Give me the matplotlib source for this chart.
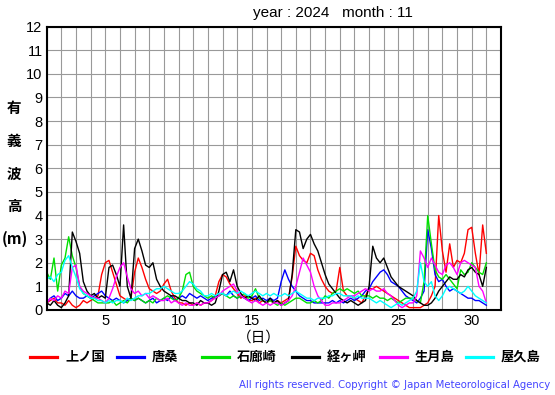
import numpy as np
import matplotlib
matplotlib.use("Agg")
import matplotlib.pyplot as plt
from matplotlib.lines import Line2D

# significant wave height (m), read every 6 hours from Nov 1 00h to Dec 1 00h
stations = ["上ノ国", "唐桑", "石廊崎", "経ヶ岬", "生月島", "屋久島"]
colors = ["#ff0000", "#0000ff", "#00e000", "#000000", "#ff00ff", "#00ffff"]

kaminokuni = [
    0.3, 0.4, 0.5, 0.3,  0.3, 0.2, 0.4, 0.2,  0.1, 0.2, 0.4, 0.3,  0.4, 0.5, 0.6, 1.5,
    2.0, 2.1, 1.6, 1.1,  0.6, 0.5, 0.4, 0.5,  1.6, 2.2, 1.8, 1.3,  0.9, 0.8, 0.7, 0.8,
    1.1, 1.3, 0.8, 0.5,  0.3, 0.3, 0.2, 0.3,  0.2, 0.3, 0.2, 0.3,  0.3, 0.4, 0.6, 1.2,
    1.5, 1.4, 1.1, 0.9,  0.7, 0.5, 0.6, 0.4,  0.4, 0.5, 0.3, 0.4,  0.3, 0.4, 0.3, 0.4,
    0.3, 0.4, 0.5, 1.4,  2.7, 2.3, 2.1, 2.0,  2.4, 2.3, 1.7, 1.3,  1.0, 0.8, 0.7, 0.8,
    1.8, 0.8, 0.6, 0.6,  0.5, 0.4, 0.3, 0.6,  0.9, 0.9, 1.0, 0.9,  0.8, 0.7, 0.6, 0.5,
    0.4, 0.3, 0.2, 0.1,  0.1, 0.1, 0.1, 0.2,  0.3, 0.6, 1.0, 4.0,  2.5, 1.6, 2.8, 1.8,
    2.1, 2.0, 2.4, 3.4,  3.5, 2.4, 1.5, 3.6,  2.4]
karakuwa = [
    0.3, 0.5, 0.6, 0.4,  0.5, 0.7, 0.6, 0.8,  0.6, 0.5, 0.5, 0.6,  0.5, 0.6, 0.7, 0.8,
    0.6, 0.5, 0.4, 0.5,  0.4, 0.3, 0.4, 0.5,  0.4, 0.5, 0.4, 0.3,  0.4, 0.5, 0.3, 0.4,
    0.5, 0.4, 0.6, 0.4,  0.5, 0.6, 0.5, 0.7,  0.6, 0.5, 0.6, 0.5,  0.4, 0.5, 0.6, 0.6,
    0.7, 0.6, 0.8, 0.6,  0.5, 0.6, 0.5, 0.4,  0.5, 0.6, 0.4, 0.5,  0.4, 0.5, 0.4, 0.5,
    1.2, 1.7, 1.3, 1.0,  0.8, 0.6, 0.5, 0.4,  0.4, 0.3, 0.3, 0.3,  0.3, 0.3, 0.4, 0.3,
    0.4, 0.3, 0.4, 0.5,  0.4, 0.5, 0.6, 0.8,  0.9, 1.2, 1.4, 1.6,  1.7, 1.5, 1.2, 1.1,
    1.0, 0.8, 0.6, 0.5,  0.4, 0.3, 0.5, 0.8,  3.4, 2.6, 1.5, 1.2,  1.3, 1.0, 0.8, 0.9,
    0.8, 0.7, 0.6, 0.5,  0.5, 0.4, 0.4, 0.3,  0.2]
irozaki = [
    1.6, 1.3, 2.2, 0.8,  1.9, 2.2, 3.1, 2.3,  1.8, 1.0, 0.7, 0.6,  0.5, 0.4, 0.3, 0.3,
    0.3, 0.3, 0.4, 0.2,  0.3, 0.4, 0.3, 0.5,  0.4, 0.5, 0.4, 0.3,  0.4, 0.3, 0.5, 0.4,
    0.5, 0.6, 0.5, 0.4,  0.5, 0.8, 1.5, 1.6,  1.0, 0.8, 0.7, 0.6,  0.5, 0.6, 0.5, 0.6,
    0.7, 0.6, 0.5, 0.6,  0.5, 0.6, 0.7, 0.5,  0.6, 0.9, 0.5, 0.4,  0.3, 0.4, 0.3, 0.2,
    0.3, 0.2, 0.3, 0.4,  0.5, 0.5, 0.4, 0.3,  0.3, 0.4, 0.3, 0.4,  0.6, 0.5, 0.7, 0.8,
    0.9, 0.8, 0.9, 0.8,  0.7, 0.8, 0.6, 0.6,  0.6, 0.5, 0.6, 0.5,  0.5, 0.4, 0.5, 0.4,
    0.3, 0.4, 0.5, 0.5,  0.5, 0.4, 0.3, 1.2,  4.0, 2.8, 1.7, 1.4,  1.3, 1.5, 1.3, 1.1,
    0.9, 1.7, 1.5, 1.6,  2.0, 1.8, 1.6, 1.5,  2.0]
kyogamisaki = [
    0.3, 0.2, 0.4, 0.2,  0.1, 0.3, 0.6, 3.3,  2.9, 2.4, 1.2, 0.8,  0.6, 0.7, 0.5, 0.6,
    0.5, 1.8, 1.9, 1.5,  1.0, 3.6, 1.0, 0.5,  2.6, 3.0, 2.5, 1.9,  1.8, 2.0, 1.3, 1.0,
    0.8, 0.7, 0.6, 0.6,  0.5, 0.4, 0.4, 0.3,  0.3, 0.2, 0.4, 0.3,  0.3, 0.2, 0.3, 0.8,
    1.5, 1.6, 1.2, 1.7,  1.0, 0.7, 0.5, 0.6,  0.5, 0.4, 0.6, 0.4,  0.3, 0.5, 0.3, 0.4,
    0.2, 0.3, 0.4, 1.5,  3.4, 3.3, 2.6, 3.0,  3.2, 2.8, 2.5, 2.0,  1.5, 1.1, 0.9, 0.7,
    0.5, 0.4, 0.3, 0.4,  0.3, 0.2, 0.3, 0.4,  1.0, 2.7, 2.2, 2.0,  2.2, 1.8, 1.4, 1.2,
    1.0, 0.9, 0.8, 0.7,  0.6, 0.4, 0.3, 0.2,  0.2, 0.3, 0.5, 0.8,  1.0, 1.2, 1.4, 1.3,
    1.3, 1.5, 1.4, 1.7,  1.8, 1.6, 1.5, 1.0,  1.8]
ikitsukishima = [
    0.3, 0.5, 0.4, 0.6,  0.5, 0.8, 0.7, 1.8,  1.9, 1.0, 0.8, 0.7,  0.6, 0.5, 0.5, 0.4,
    0.3, 0.5, 0.9, 1.4,  1.8, 2.0, 1.4, 0.9,  0.7, 0.8, 0.6, 0.7,  0.5, 0.6, 0.5, 0.4,
    0.4, 0.5, 0.3, 0.4,  0.3, 0.2, 0.3, 0.2,  0.2, 0.3, 0.2, 0.3,  0.3, 0.4, 0.5, 0.6,
    0.8, 0.9, 1.0, 1.1,  0.8, 0.6, 0.5, 0.4,  0.3, 0.4, 0.3, 0.2,  0.3, 0.2, 0.3, 0.3,
    0.2, 0.3, 0.4, 0.6,  1.0, 1.6, 2.2, 1.9,  1.6, 1.0, 0.6, 0.4,  0.2, 0.2, 0.3, 0.3,
    0.3, 0.4, 0.5, 0.6,  0.6, 0.7, 0.8, 0.9,  0.8, 0.9, 0.8, 0.8,  0.9, 0.7, 0.6, 0.4,
    0.2, 0.1, 0.2, 0.3,  0.3, 0.6, 2.5, 2.2,  1.8, 2.2, 1.9, 1.6,  1.5, 1.9, 2.0, 1.8,
    1.5, 2.0, 2.1, 2.0,  1.9, 1.8, 1.0, 0.8,  0.3]
yakushima = [
    1.3, 1.4, 1.2, 1.5,  1.6, 2.1, 2.3, 1.8,  1.4, 0.9, 0.7, 0.6,  0.5, 0.5, 0.4, 0.4,
    0.3, 0.4, 0.3, 0.4,  0.4, 0.3, 0.5, 0.4,  0.5, 0.6, 0.6, 0.7,  0.7, 0.8, 0.9, 0.9,
    1.0, 0.9, 0.8, 0.7,  0.7, 0.8, 1.0, 1.2,  1.1, 0.9, 0.8, 0.6,  0.6, 0.7, 0.6, 0.7,
    0.7, 0.6, 0.7, 0.8,  0.7, 0.8, 0.7, 0.6,  0.7, 0.8, 0.7, 0.6,  0.7, 0.6, 0.7, 0.6,
    0.6, 0.7, 0.6, 0.7,  0.8, 0.7, 0.6, 0.5,  0.5, 0.4, 0.5, 0.5,  0.5, 0.6, 0.6, 0.7,
    0.7, 0.6, 0.6, 0.6,  0.5, 0.6, 0.5, 0.5,  0.5, 0.4, 0.3, 0.4,  0.3, 0.2, 0.1, 0.2,
    0.3, 0.2, 0.3, 0.4,  0.5, 0.8, 2.0, 1.2,  1.0, 1.2, 0.6, 0.4,  0.6, 0.9, 1.0, 0.9,
    0.8, 0.7, 0.8, 1.0,  0.8, 0.6, 0.5, 0.4,  0.3]

series = [kaminokuni, karakuwa, irozaki, kyogamisaki, ikitsukishima, yakushima]
days = 1 + np.arange(len(kaminokuni)) * 0.25

jp = ["Noto Sans CJK JP", "DejaVu Sans"]
num_font = "Liberation Sans"

fig = plt.figure(figsize=(5.55, 3.95), dpi=100)
ax = fig.add_axes([0.0841, 0.2152, 0.8186, 0.7177])

for vals, c in zip(series, colors):
    ax.plot(days, vals, color=c, lw=1.0)

ax.set_xlim(1, 32)
ax.set_ylim(0, 12)
ax.set_xticks(np.arange(1, 33), minor=True)
ax.set_xticks([5, 10, 15, 20, 25, 30])
ax.set_yticks(np.arange(0, 13))
ax.grid(True, which="both", color="#999999", lw=0.8)
ax.set_axisbelow(True)
ax.tick_params(which="both", length=0, labelsize=10.5, pad=3)
for lab in ax.get_xticklabels() + ax.get_yticklabels():
    lab.set_fontfamily(num_font)
for sp in ax.spines.values():
    sp.set_linewidth(1.5)

fig.text(0.60, 0.967, "year : 2024   month : 11", ha="center", va="center",
         fontsize=11, family=num_font)

# vertical y label
for ch, ypx in zip(["有", "義", "波", "高"], [108, 141, 174, 206]):
    fig.text(14 / 555, 1 - ypx / 395, ch, ha="center", va="center",
             fontsize=10.5, family=jp, weight="bold")
fig.text(2 / 555, 1 - 239 / 395, "(m)", ha="left", va="center",
         fontsize=11, family=jp, weight="bold")

fig.text(259 / 555, 1 - 338 / 395, "（日）", ha="center", va="center",
         fontsize=10.5, family=jp)

# legend row
line_x = [30, 117, 202, 292, 380, 466]
for x0, name, c in zip(line_x, stations, colors):
    fig.add_artist(Line2D([x0 / 555, (x0 + 27) / 555], [1 - 357 / 395] * 2,
                          color=c, lw=2.3, transform=fig.transFigure))
    fig.text((x0 + 35) / 555, 1 - 357 / 395, name, ha="left", va="center",
             fontsize=9.5, family=jp, weight="bold")

fig.text(550 / 555, 1 - 385 / 395,
         "All rights reserved. Copyright © Japan Meteorological Agency",
         ha="right", va="center", fontsize=7.3, color="#4444ff", family="DejaVu Sans")

fig.savefig("out.png", dpi=100)
